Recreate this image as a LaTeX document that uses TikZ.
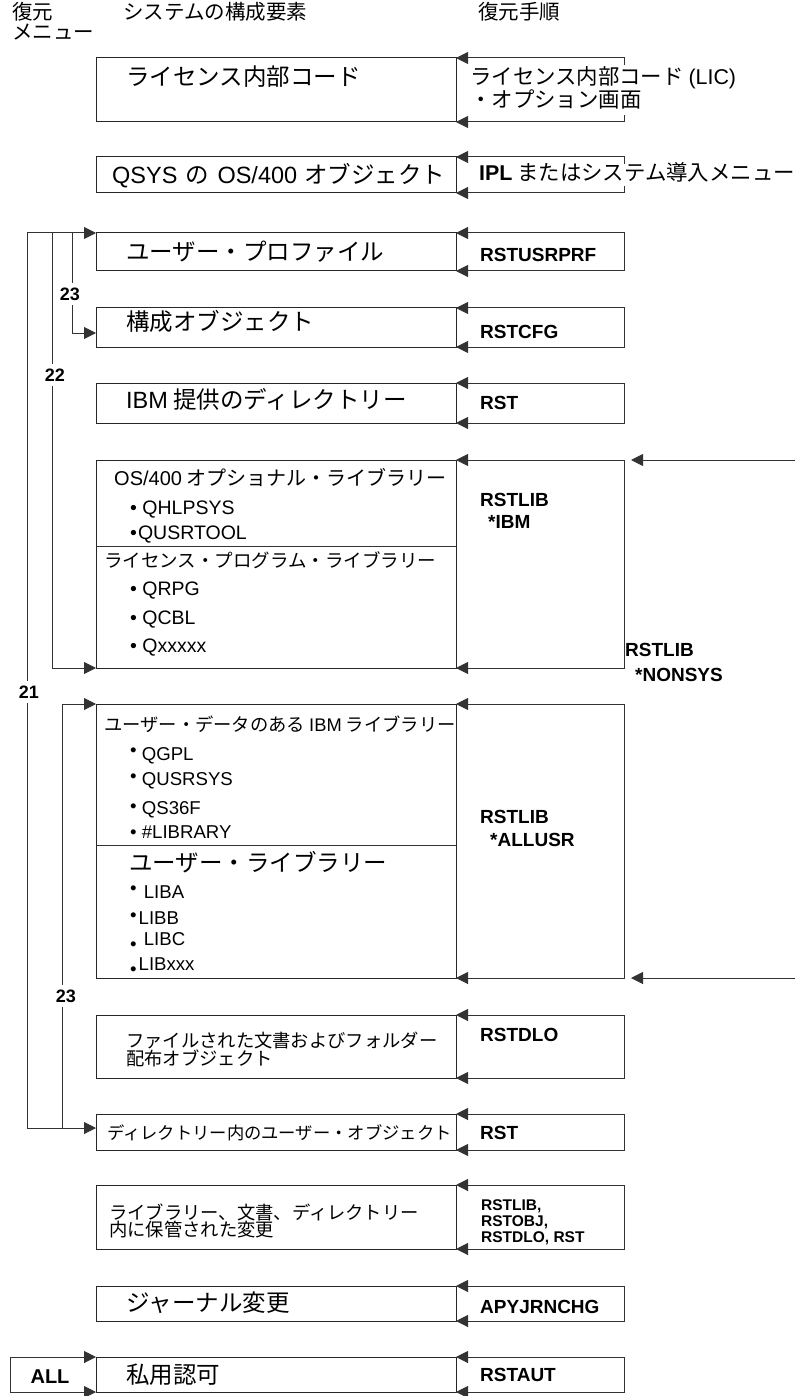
\documentclass[tikz,border=0pt]{standalone}
\usepackage{fontspec}
\setmainfont{Noto Sans CJK JP}
\newfontfamily\lat{Liberation Sans}
\usetikzlibrary{arrows.meta}
\newcommand{\la}[1]{{\lat #1}}
\newcommand{\myfs}[1]{\fontsize{#1}{#1}\selectfont}
\newcommand{\bul}[1]{\raisebox{#1}{•}}
\tikzset{
  box/.style={draw=black!85, line width=1pt, minimum width=360pt, inner sep=0pt, outer sep=0pt, anchor=north west},
  ln/.style={draw=black!80, line width=1pt},
  arr/.style={ln, -{Triangle[length=12pt,width=12pt]}},
  darr/.style={ln, {Triangle[length=12pt,width=12pt]}-{Triangle[length=12pt,width=12pt]}},
  sarr/.style={ln, {Triangle[length=12pt,width=12pt]}-},
  txt/.style={inner sep=0pt, anchor=base west},
  hd/.style={txt, font=\myfs{20.5}},
  ttl/.style={txt, font=\myfs{23.5}},
  prc/.style={txt, font=\myfs{21.4}},
  cmd/.style={txt, font=\lat\bfseries\myfs{19}},
  cmds/.style={txt, font=\lat\bfseries\myfs{15.5}},
  itm/.style={txt, font=\lat\myfs{19.5}},
  itms/.style={txt, font=\lat\myfs{18.6}},
  subt/.style={txt, font=\myfs{20}},
  subs/.style={txt, font=\myfs{18.5}},
  smt/.style={txt, font=\myfs{18.3}},
  smtt/.style={txt, font=\myfs{17.3}},
  lbl/.style={font=\lat\bfseries\myfs{18}, inner sep=4.5pt},
}
\begin{document}
\begin{tikzpicture}[x=1pt,y=-1pt]
\fill[white] (0,0) rectangle (795,1396);
\useasboundingbox (0,0) rectangle (795,1396);

% headers
\node[hd] (h1) at (12,20) {復元};
\node[hd] (h2) at (12,40) {メニュー};
\node[hd] (h3) at (123,20) {システムの構成要素};
\node[hd] (h4) at (478,20) {復元手順};

% boxes
\node[box, minimum height=64pt]  (b1)  at (96,58) {};
\node[box, minimum height=36pt]  (b2)  at (96,157) {};
\node[box, minimum height=38pt]  (b3)  at (96,233) {};
\node[box, minimum height=39pt]  (b4)  at (96,308) {};
\node[box, minimum height=40pt]  (b5)  at (96,383) {};
\node[box, minimum height=208pt] (b6)  at (96,460) {};
\node[box, minimum height=274pt] (b7)  at (96,704) {};
\node[box, minimum height=63pt]  (b8)  at (96,1015) {};
\node[box, minimum height=36pt]  (b9)  at (96,1114) {};
\node[box, minimum height=64pt]  (b10) at (96,1185) {};
\node[box, minimum height=35pt]  (b11) at (96,1286) {};
\node[box, minimum height=35pt]  (b12) at (96,1357) {};

% dividers
\coordinate (d6l) at (96,546);  \coordinate (d6r) at (456,546);
\coordinate (d7l) at (96,845);  \coordinate (d7r) at (456,845);
\draw[ln] (d6l) -- (d6r);
\draw[ln] (d7l) -- (d7r);

% component texts
\node[ttl] (t1) at (126,85.5) {ライセンス内部コード};
\node[ttl] (t2) at (112,183.5) {\la{QSYS}\hspace{3pt} の\hspace{3pt} \la{OS/400}\hspace{2pt} オブジェクト};
\node[ttl] (t3) at (126,260.5) {ユーザー・プロファイル};
\node[ttl] (t4) at (126,330.5) {構成オブジェクト};
\node[ttl] (t5) at (126,408.5) {\la{IBM} 提供のディレクトリー};

\node[subt] (t6a) at (114,485.5) {\la{OS/400} オプショナル・ライブラリー};
\node[itm] (t6b) at (130,514) {• QHLPSYS};
\node[itm] (t6c) at (130,539) {•\hspace{1pt}QUSRTOOL};
\node[subs] (t6d) at (104,567) {ライセンス・プログラム・ライブラリー};
\node[itm] (t6e) at (130,595) {• QRPG};
\node[itm] (t6f) at (130,624) {• QCBL};
\node[itm] (t6g) at (130,652) {• Qxxxxx};

\node[smt] (t7a) at (104,731) {ユーザー・データのある \la{IBM} ライブラリー};
\node[itms] (t7b) at (130,760) {\bul{4pt} QGPL};
\node[itms] (t7c) at (130,785) {\bul{3pt} QUSRSYS};
\node[itms] (t7d) at (130,814) {\bul{2pt} QS36F};
\node[itms] (t7e) at (130,838) {\bul{0pt} \#LIBRARY};
\node[ttl] (t7f) at (129,871) {ユーザー・ライブラリー};
\node[itms] (t7g) at (130,898) {\bul{4pt}\hspace{2pt} LIBA};
\node[itms] (t7h) at (130,924) {\bul{3pt}\hspace{2pt}LIBB};
\node[itms] (t7i) at (130,945) {\bul{-5pt}\hspace{2pt} LIBC};
\node[itms] (t7j) at (130,970) {\bul{-5pt}\hspace{2pt}LIBxxx};

\node[smt] (t8a) at (126,1047) {ファイルされた文書およびフォルダー};
\node[smt] (t8b) at (126,1065) {配布オブジェクト};
\node[smtt] (t9) at (107,1139.5) {ディレクトリー内のユーザー・オブジェクト};
\node[smt] (t10a) at (109,1219) {ライブラリー、文書、ディレクトリー};
\node[smt] (t10b) at (109,1236) {内に保管された変更};
\node[ttl] (t11) at (126,1311.5) {ジャーナル変更};
\node[ttl] (t12) at (126,1383.5) {私用認可};

% procedure texts
\node[prc] (p1a) at (470,85) {ライセンス内部コード \la{(LIC)}};
\node[prc] (p1b) at (470,108) {・オプション画面};
\node[prc] (p2) at (479,181) {\la{\bfseries IPL} またはシステム導入メニュー};
\node[cmd] (p3) at (480,261.8) {RSTUSRPRF};
\node[cmd] (p4) at (480,338.8) {RSTCFG};
\node[cmd] (p5) at (480,409.8) {RST};
\node[cmd] (p6a) at (480,506.8) {RSTLIB};
\node[cmd] (p6b) at (488,528.8) {*IBM};
\node[cmd] (p6c) at (625,656.8) {RSTLIB};
\node[cmd] (p6d) at (635,681.8) {*NONSYS};
\node[cmd] (p7a) at (480,823.8) {RSTLIB};
\node[cmd] (p7b) at (490,846.8) {*ALLUSR};
\node[cmd] (p8) at (480,1041.8) {RSTDLO};
\node[cmd] (p9) at (480,1139.8) {RST};
\node[cmds] (p10a) at (481,1210.5) {RSTLIB,};
\node[cmds] (p10b) at (481,1226.5) {RSTOBJ,};
\node[cmds] (p10c) at (481,1242.5) {RSTDLO, RST};
\node[cmd] (p11) at (480,1313.8) {APYJRNCHG};
\node[cmd] (p12) at (480,1381.8) {RSTAUT};

% right brackets
\draw[sarr] (b1.north east) -- ++(168,0) -- ++(0,7);
\draw[sarr] (b1.south east) -- ++(168,0) -- ++(0,-7);
\draw[sarr] (b2.north east) -- ++(168,0) -- ++(0,7);
\draw[sarr] (b2.south east) -- ++(168,0) -- ++(0,-7);
\foreach \i in {3,...,12}{
  \draw[darr] (b\i.north east) -- ++(168,0) |- (b\i.south east);
}
\coordinate (fr1) at (795,460);
\coordinate (fr2) at (795,978);
\draw[arr, shorten >=7pt] (fr1) -- ([xshift=168pt]b6.north east);
\draw[arr, shorten >=7pt] (fr2) -- ([xshift=168pt]b7.south east);

% left menu lines
\node[lbl] (l23a) at (70,294) {23};
\node[lbl] (l22) at (55,375) {22};
\node[lbl] (l21) at (29,692) {21};
\node[lbl] (l23b) at (66,996) {23};
\coordinate (j21) at (27,233);
\coordinate (j22) at (52,233);
\coordinate (j23) at (72,233);
\coordinate (e23) at (96,333);
\coordinate (e21) at (96,1128);
\coordinate (j23b) at (62,704);
\draw[arr] (j21) -- (b3.north west);
\draw[ln] (j22) -- (j22 |- l22.north);
\draw[arr] (j22 |- l22.south) |- (b6.south west);
\draw[ln] (j23) -- (j23 |- l23a.north);
\draw[arr] (j23 |- l23a.south) |- (e23);
\draw[ln] (j21) -- (j21 |- l21.north);
\draw[arr] (j21 |- l21.south) |- (e21);
\draw[arr] (j23b) -- (b7.north west);
\draw[ln] (j23b) -- (j23b |- l23b.north);
\draw[ln] (j23b |- l23b.south) -- (j23b |- e21);

% ALL
\node[font=\lat\bfseries\myfs{20}, inner sep=0pt] (lall) at (50,1377) {ALL};
\draw[darr] (b12.north west) -- ++(-86,0) |- (b12.south west);
\end{tikzpicture}
\end{document}
